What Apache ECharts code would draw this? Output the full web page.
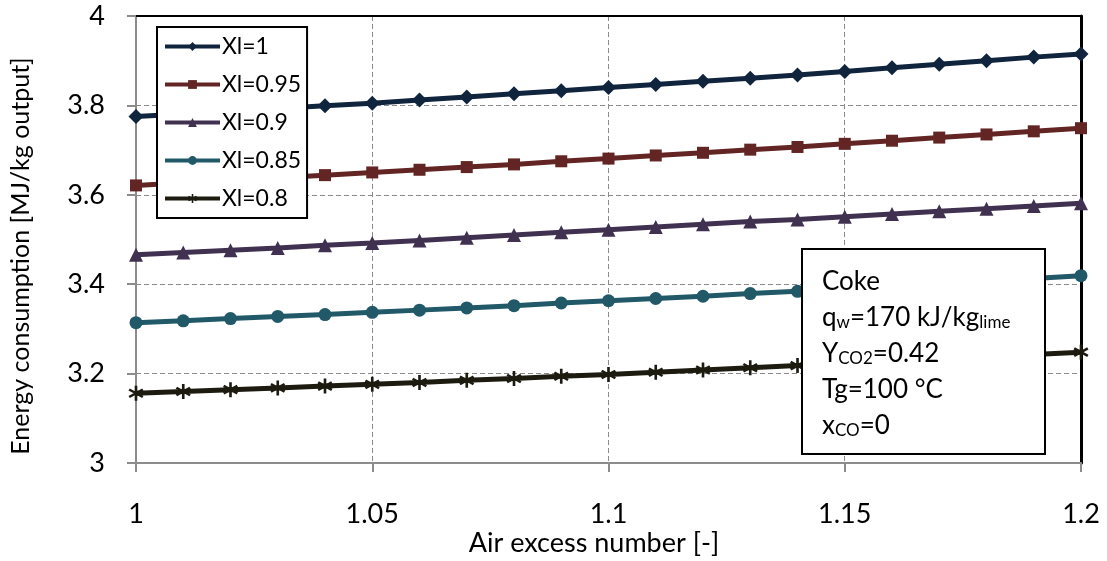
<!DOCTYPE html>
<html>
<head>
<meta charset="utf-8">
<title>Energy consumption vs air excess number</title>
<script src="https://cdn.jsdelivr.net/npm/echarts@6/dist/echarts.min.js"></script>
<style>
    html, body { margin: 0; padding: 0; background: #fff; }
    #main { width: 1107px; height: 561px; }
</style>
</head>
<body>
<div id="main"></div>
<script>
// x: air excess number
var xVals = [1.00, 1.01, 1.02, 1.03, 1.04, 1.05, 1.06, 1.07, 1.08, 1.09, 1.10,
             1.11, 1.12, 1.13, 1.14, 1.15, 1.16, 1.17, 1.18, 1.19, 1.20];

// energy consumption [MJ/kg output]
var xl100 = [3.775, 3.781, 3.787, 3.793, 3.799, 3.805, 3.812, 3.819, 3.826, 3.833, 3.840,
             3.847, 3.854, 3.861, 3.868, 3.876, 3.884, 3.892, 3.900, 3.908, 3.915];
var xl095 = [3.621, 3.627, 3.633, 3.638, 3.644, 3.650, 3.656, 3.662, 3.668, 3.675, 3.681,
             3.688, 3.694, 3.701, 3.707, 3.714, 3.721, 3.728, 3.735, 3.742, 3.749];
var xl090 = [3.466, 3.471, 3.476, 3.481, 3.487, 3.492, 3.498, 3.504, 3.510, 3.516, 3.522,
             3.528, 3.534, 3.540, 3.545, 3.551, 3.557, 3.563, 3.569, 3.575, 3.581];
var xl085 = [3.314, 3.318, 3.323, 3.328, 3.332, 3.337, 3.342, 3.347, 3.352, 3.358, 3.363,
             3.368, 3.373, 3.379, 3.384, 3.390, 3.396, 3.401, 3.407, 3.413, 3.419];
var xl080 = [3.156, 3.160, 3.164, 3.168, 3.172, 3.176, 3.180, 3.185, 3.189, 3.194, 3.198,
             3.203, 3.208, 3.213, 3.218, 3.223, 3.228, 3.233, 3.238, 3.243, 3.248];

var seriesNames = ['Xl=1', 'Xl=0.95', 'Xl=0.9', 'Xl=0.85', 'Xl=0.8'];

// tick labels
var xTickLabels = ['1', '1.05', '1.1', '1.15', '1.2'];
var yTickLabels = ['3', '3.2', '3.4', '3.6', '3.8', '4'];

(function() {
    var FONT = 'Lato';
    var chart = echarts.init(document.getElementById('main'), null, {renderer: 'canvas'});

    // asterisk marker (three bars, same winding)
    var starPath = 'path://M-1,-6L1,-6L1,6L-1,6Z' +
        'M-5.7,-2.134L-4.7,-3.866L5.7,2.134L4.7,3.866Z' +
        'M-4.7,3.866L-5.7,2.134L4.7,-3.866L5.7,-2.134Z';

    var styles = [
        {data: xl100, color: '#10243e', symbol: 'diamond',  size: 15},
        {data: xl095, color: '#632523', symbol: 'rect',     size: 12},
        {data: xl090, color: '#403151', symbol: 'triangle', size: 14},
        {data: xl085, color: '#215968', symbol: 'circle',   size: 13},
        {data: xl080, color: '#1d1b10', symbol: starPath,   size: 15}
    ];

    var series = styles.map(function(s, i) {
        return {
            name: seriesNames[i],
            type: 'line',
            data: xVals.map(function(x, j) { return [x, s.data[j]]; }),
            symbol: s.symbol,
            symbolSize: s.size,
            showAllSymbol: true,
            lineStyle: {width: 5, color: s.color},
            itemStyle: {color: s.color},
            z: 3
        };
    });

    var frameAxis = {
        axisLine: {show: true, lineStyle: {color: '#000', width: 2}},
        axisTick: {show: false},
        axisLabel: {show: false},
        splitLine: {show: false}
    };

    var option = {
        animation: false,
        backgroundColor: '#fff',
        grid: {
            left: 136, right: 26, top: 16, bottom: 98
        },
        legend: {
            orient: 'vertical',
            left: 157, top: 27,
            padding: [8, 6, 8, 6],
            itemGap: 15,
            itemWidth: 55,
            itemHeight: 11,
            backgroundColor: '#fff',
            borderColor: '#000',
            borderWidth: 2,
            borderRadius: 0,
            lineStyle: {width: 4},
            textStyle: {fontFamily: FONT, fontSize: 23, color: '#000', padding: [0, 0, 0, -3]},
            data: seriesNames,
            z: 10
        },
        xAxis: [{
            type: 'value',
            min: 1, max: 1.2, interval: 0.05,
            axisLine: {show: true, lineStyle: {color: '#8c8c8c', width: 2}},
            axisTick: {show: true, length: 9, lineStyle: {color: '#8c8c8c', width: 2}},
            axisLabel: {
                margin: 38, fontFamily: FONT, fontSize: 27, color: '#000',
                formatter: function(v) { return xTickLabels[Math.round((v - 1) / 0.05)]; }
            },
            splitLine: {show: true, lineStyle: {color: '#8a8a8a', width: 1, type: [5, 3]}}
        }, Object.assign({type: 'value', position: 'top', min: 1, max: 1.2}, frameAxis)],
        yAxis: [{
            type: 'value',
            min: 3, max: 4, interval: 0.2,
            axisLine: {show: true, lineStyle: {color: '#8c8c8c', width: 2}},
            axisTick: {show: true, length: 9, lineStyle: {color: '#8c8c8c', width: 2}},
            axisLabel: {
                margin: 31, fontFamily: FONT, fontSize: 27, color: '#000',
                formatter: function(v) { return yTickLabels[Math.round((v - 3) / 0.2)]; }
            },
            splitLine: {show: true, lineStyle: {color: '#8a8a8a', width: 1, type: [5, 3]}}
        }, Object.assign({type: 'value', position: 'right', min: 3, max: 4}, frameAxis, {
            axisLine: {show: true, lineStyle: {color: '#000', width: 3}}
        })],
        graphic: [
            // axis titles
            {
                type: 'text', x: 594, y: 543, z: 20,
                style: {
                    text: 'Air excess number [-]',
                    fontFamily: FONT, fontSize: 27, fill: '#000',
                    align: 'center', verticalAlign: 'middle'
                }
            },
            {
                type: 'text', x: 21, y: 256, rotation: Math.PI / 2, z: 20,
                style: {
                    text: 'Energy consumption [MJ/kg output]',
                    fontFamily: FONT, fontSize: 25, fill: '#000',
                    align: 'center', verticalAlign: 'middle'
                }
            },
            // info box
            {
                type: 'rect', x: 802, y: 249, z: 20,
                shape: {x: 0, y: 0, width: 243, height: 205},
                style: {fill: '#fff', stroke: '#000', lineWidth: 2}
            },
            {
                type: 'text', x: 822, y: 259, z: 21,
                style: {
                    text: [
                        '{n|Coke}',
                        '{n|q}{s|w}{n|=170 kJ/kg}{s|lime}',
                        '{n|Y}{s|CO2}{n|=0.42}',
                        '{n|Tg=100 °C}',
                        '{n|x}{s|CO}{n|=0}'
                    ].join('\n'),
                    fill: '#000',
                    rich: {
                        n: {fontFamily: FONT, fontSize: 26, lineHeight: 36, fill: '#000', verticalAlign: 'bottom'},
                        s: {fontFamily: FONT, fontSize: 17, lineHeight: 26, fill: '#000', verticalAlign: 'bottom'}
                    }
                }
            }
        ],
        series: series
    };

    chart.setOption(option);
})();
</script>
</body>
</html>
